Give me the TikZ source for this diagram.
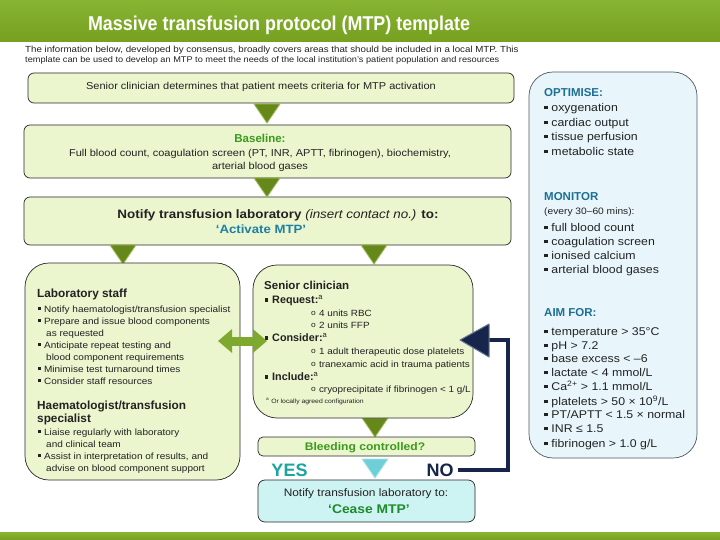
\documentclass[tikz,border=0pt]{standalone}
\usepackage{fontspec}
\setmainfont{Liberation Sans}
\newfontfamily\widefont{Liberation Sans}[FakeStretch=1.1]
\usetikzlibrary{arrows.meta,calc}
\definecolor{band}{HTML}{76A01E}
\definecolor{bandtop}{HTML}{88B434}
\definecolor{boxgreen}{HTML}{EBF5CE}
\definecolor{boxline}{HTML}{2A2A2A}
\definecolor{trigreen}{HTML}{66881A}
\definecolor{trilight}{HTML}{9DBB55}
\definecolor{basegreen}{HTML}{3A9A1C}
\definecolor{actblue}{HTML}{1E80A3}
\definecolor{yesteal}{HTML}{1AA59F}
\definecolor{nonavy}{HTML}{18254A}
\definecolor{navyedge}{HTML}{6A7894}
\definecolor{ceasefill}{HTML}{CDF3F2}
\definecolor{ceasegreen}{HTML}{1E8A2C}
\definecolor{rightfill}{HTML}{E8F6FB}
\definecolor{rightline}{HTML}{4F5A60}
\definecolor{headblue}{HTML}{1D6F93}
\definecolor{dblgreen}{HTML}{7EA92E}
\definecolor{tealtri}{HTML}{6ECFD8}
\definecolor{tealedge}{HTML}{A8E4EA}
\definecolor{txtgray}{HTML}{222222}
\newcommand\bul{\rule[0.2em]{0.3em}{0.3em}\hspace{0.35em}}
\newcommand\subb{\raisebox{0.05em}{\scalebox{0.85}{o}}\hspace{0.35em}}
\newcommand\dtri[4]{\fill[#4, draw=#3, line width=0.8pt] ({#1-13},#2) -- ({#1+13},#2) -- (#1,{#2+19}) -- cycle;}
\begin{document}
\begin{tikzpicture}[x=1pt,y=-1pt,
  flowbox/.style={draw=boxline, fill=boxgreen, rounded corners=6pt, line width=0.7pt, inner sep=0},
  bubble/.style={draw=boxline, fill=boxgreen, rounded corners=24pt, line width=0.7pt, inner sep=0},
  txt/.style={anchor=base west, yshift=-3pt, inner sep=0, text=txtgray, font=\widefont\fontsize{9.1}{11}\selectfont},
  ctxt/.style={anchor=base, yshift=-3.4pt, inner sep=0, text=txtgray, font=\widefont\fontsize{10}{12}\selectfont},
  rtxt/.style={anchor=base west, yshift=-3.7pt, inner sep=0, text=txtgray, font=\widefont\fontsize{11.2}{13}\selectfont},
  rhead/.style={anchor=base west, yshift=-3.9pt, inner sep=0, text=headblue, font=\fontsize{11.5}{13}\selectfont\bfseries},
  hd/.style={anchor=base west, yshift=-4pt, inner sep=0, text=txtgray, font=\fontsize{11.8}{13}\selectfont\bfseries},
  sbh/.style={anchor=base west, yshift=-3.7pt, inner sep=0, text=txtgray, font=\fontsize{10.8}{12}\selectfont\bfseries}]
\useasboundingbox (0,0) rectangle (720,540);
\fill[white] (0,0) rectangle (720,540);
% header band
\shade[top color=bandtop, bottom color=band] (0,0) rectangle (720,42);
\node[inner sep=0, text=white, font=\fontsize{20}{22}\selectfont\bfseries] (title) at (279,25)
  {\scalebox{0.895}[1]{Massive transfusion protocol (MTP) template}};
\node[txt, font=\widefont\fontsize{8.85}{10}\selectfont] (intro1) at (25,50) {The information below, developed by consensus, broadly covers areas that should be included in a local MTP. This};
\node[txt, font=\widefont\fontsize{8.35}{10}\selectfont] (intro2) at (25,60) {template can be used to develop an MTP to meet the needs of the local institution’s patient population and resources};
% bottom band
\shade[top color=bandtop, bottom color=band] (0,532) rectangle (720,540);

% main boxes
\node[flowbox, minimum width=486pt, minimum height=30pt] (b1) at (271,88) {};
\node[ctxt] (t1) at (261,86) {Senior clinician determines that patient meets criteria for MTP activation};

\node[flowbox, minimum width=487pt, minimum height=53pt] (b2) at (267.5,151.5) {};
\node[ctxt, yshift=-0.6pt, text=basegreen, font=\fontsize{11.5}{13}\selectfont\bfseries] (t2a) at (260,139) {Baseline:};
\node[ctxt] (t2b) at (260,153) {Full blood count, coagulation screen (PT, INR, APTT, fibrinogen), biochemistry,};
\node[ctxt] (t2c) at (260,166) {arterial blood gases};

\node[flowbox, minimum width=487pt, minimum height=48pt] (b3) at (267.5,221) {};
\node[ctxt, yshift=-0.8pt, font=\widefont\fontsize{12.2}{14}\selectfont\bfseries] (t3a) at (278,214) {Notify transfusion laboratory {\mdseries\itshape(insert contact no.)} to:};
\node[ctxt, yshift=-0.8pt, text=actblue, font=\widefont\fontsize{12}{14}\selectfont\bfseries] (t3b) at (261,229) {‘Activate MTP’};

% triangles between boxes
\dtri{267}{104}{trilight}{trigreen}
\dtri{267}{178}{trilight}{trigreen}
\dtri{123}{245}{trilight}{trigreen}
\dtri{374}{245}{trilight}{trigreen}
\dtri{375}{418}{trilight}{trigreen}
\dtri{375}{459}{tealedge}{tealtri}

% laboratory box
\node[bubble, minimum width=215pt, minimum height=217pt] (lab) at (132.5,371.5) {};
\node[hd] (labh) at (37,293) {Laboratory staff};
\node[txt] (l1) at (38,309) {\bul Notify haematologist/transfusion specialist};
\node[txt] (l2) at (38,321) {\bul Prepare and issue blood components};
\node[txt] (l3) at (46,333) {as requested};
\node[txt] (l4) at (38,345) {\bul Anticipate repeat testing and};
\node[txt] (l5) at (46,357) {blood component requirements};
\node[txt] (l6) at (38,369) {\bul Minimise test turnaround times};
\node[txt] (l7) at (38,381) {\bul Consider staff resources};
\node[hd] (hemh1) at (37,405) {Haematologist/transfusion};
\node[hd] (hemh2) at (37,418) {specialist};
\node[txt] (h1) at (38,432) {\bul Liaise regularly with laboratory};
\node[txt] (h2) at (46,444) {and clinical team};
\node[txt] (h3) at (38,456) {\bul Assist in interpretation of results, and};
\node[txt] (h4) at (46,468) {advise on blood component support};

% senior clinician box
\node[bubble, minimum width=220pt, minimum height=153pt] (sen) at (363,341.5) {};
\node[hd, font=\fontsize{11.5}{13}\selectfont\bfseries] (senh) at (264,285) {Senior clinician};
\node[sbh] (s1) at (265,300) {\bul Request:\textsuperscript{\mdseries a}};
\node[txt, font=\widefont\fontsize{9}{11}\selectfont] (s2) at (311,313) {\subb 4 units RBC};
\node[txt, font=\widefont\fontsize{9}{11}\selectfont] (s3) at (311,325) {\subb 2 units FFP};
\node[sbh] (s4) at (265,338) {\bul Consider:\textsuperscript{\mdseries a}};
\node[txt, font=\widefont\fontsize{9}{11}\selectfont] (s5) at (311,351) {\subb 1 adult therapeutic dose platelets};
\node[txt, font=\widefont\fontsize{9}{11}\selectfont] (s6) at (311,364) {\subb tranexamic acid in trauma patients};
\node[sbh] (s7) at (265,377) {\bul Include:\textsuperscript{\mdseries a}};
\node[txt, font=\widefont\fontsize{9}{11}\selectfont] (s8) at (311,389) {\subb cryoprecipitate if fibrinogen < 1 g/L};
\node[txt, yshift=1.5pt, font=\widefont\fontsize{6.2}{7}\selectfont] (s9) at (266,402) {\textsuperscript{a} Or locally agreed configuration};

% double arrow
\coordinate (dl) at (218,341);
\coordinate (dr) at (267,341);
\draw[dblgreen, line width=9pt, {Triangle[width=23pt,length=14pt]}-{Triangle[width=23pt,length=14pt]}] (dl) -- (dr);

% bleeding controlled
\node[flowbox, rounded corners=5pt, minimum width=217pt, minimum height=19pt] (bleed) at (366.5,446.5) {};
\node[ctxt, yshift=-0.5pt, text=basegreen, font=\widefont\fontsize{11}{13}\selectfont\bfseries] (bt) at (365,447) {Bleeding controlled?};
\node[inner sep=0, text=yesteal, font=\fontsize{18}{20}\selectfont\bfseries] (yes) at (289.5,470) {YES};
\node[inner sep=0, text=nonavy, font=\fontsize{18}{20}\selectfont\bfseries] (no) at (440,470) {NO};

% cease box
\node[flowbox, fill=ceasefill, rounded corners=7pt, minimum width=217pt, minimum height=42pt] (cease) at (366.5,501) {};
\node[ctxt, yshift=-0.5pt, font=\widefont\fontsize{10.8}{13}\selectfont] (c1) at (366,493) {Notify transfusion laboratory to:};
\node[ctxt, yshift=-1pt, text=ceasegreen, font=\widefont\fontsize{12.6}{14}\selectfont\bfseries] (c2) at (369,509) {‘Cease MTP’};

% NO loop back
\coordinate (noturn) at (508,340);
\coordinate (noshaft) at (486,340);
\coordinate (notip) at (460,340);
\draw[nonavy, line width=4pt] ([xshift=4pt]no.east) -| (noturn) -- (noshaft);
\filldraw[fill=nonavy, draw=navyedge, line width=1pt, line join=round] (notip) -- ++(29,-16) -- ++(0,33) -- cycle;

% right box
\node[draw=rightline, fill=rightfill, rounded corners=24pt, line width=0.7pt, minimum width=168pt, minimum height=386pt, inner sep=0] (right) at (613,265) {};
\node[rhead] (o0) at (544,93) {OPTIMISE:};
\node[rtxt] (o1) at (544,108) {\bul oxygenation};
\node[rtxt] (o2) at (544,123) {\bul cardiac output};
\node[rtxt] (o3) at (544,137) {\bul tissue perfusion};
\node[rtxt] (o4) at (544,152) {\bul metabolic state};
\node[rhead] (m0) at (544,197) {MONITOR};
\node[rtxt, yshift=0.6pt, font=\widefont\fontsize{9.3}{10}\selectfont] (m00) at (544,211) {(every 30–60 mins):};
\node[rtxt] (m1) at (544,228) {\bul full blood count};
\node[rtxt] (m2) at (544,242) {\bul coagulation screen};
\node[rtxt] (m3) at (544,256) {\bul ionised calcium};
\node[rtxt] (m4) at (544,270) {\bul arterial blood gases};
\node[rhead] (a0) at (544,313) {AIM FOR:};
\node[rtxt] (a1) at (544,332) {\bul temperature > 35°C};
\node[rtxt] (a2) at (544,346) {\bul pH > 7.2};
\node[rtxt] (a3) at (544,359) {\bul base excess < –6};
\node[rtxt] (a4) at (544,373) {\bul lactate < 4 mmol/L};
\node[rtxt] (a5) at (544,387) {\bul Ca\textsuperscript{2+} > 1.1 mmol/L};
\node[rtxt] (a6) at (544,402) {\bul platelets > 50 × 10\textsuperscript{9}/L};
\node[rtxt] (a7) at (544,415) {\bul PT/APTT < 1.5 × normal};
\node[rtxt] (a8) at (544,429) {\bul INR ≤ 1.5};
\node[rtxt] (a9) at (544,444) {\bul fibrinogen > 1.0 g/L};
\end{tikzpicture}
\end{document}
